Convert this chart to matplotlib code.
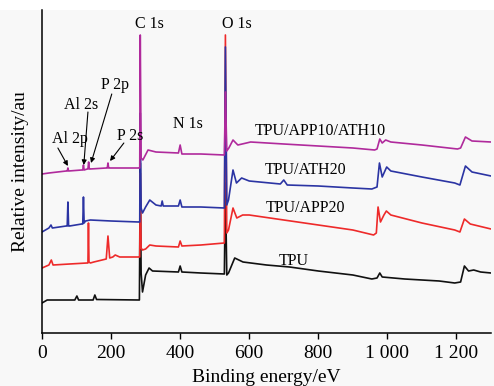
import matplotlib
matplotlib.use("Agg")
import matplotlib.pyplot as plt
from matplotlib.patches import Rectangle

plt.rcParams['font.family'] = ['Liberation Serif', 'DejaVu Serif']

# ---------------- data (binding energy in eV, relative intensity in a.u.) -------------
tpu_ev = [0, 15, 95, 101, 106, 148, 153, 158, 282, 284.5, 287, 291, 300, 310, 320, 395, 400, 405,
          460, 528, 531, 535, 540, 558, 582, 650, 717, 800, 900, 955, 970, 978, 985, 1050, 1150,
          1195, 1212, 1223, 1235, 1250, 1270, 1300]
tpu_int = [30, 33, 33, 37, 33, 33, 38, 33.5, 33, 170, 60, 41, 58, 65, 62, 61, 67, 61,
           60, 59, 150, 58, 60, 75, 71, 68, 66, 62, 58, 54, 55, 60, 56, 54, 52,
           50, 51, 67, 62, 63, 61, 60]

app20_ev = [0, 20, 27, 32, 80, 130, 133, 134.5, 136, 140, 150, 186, 191, 196, 205, 212, 225, 280,
            283, 284.5, 287, 291, 300, 312, 330, 395, 400, 405, 460, 528, 531, 535, 540, 553, 564,
            581, 600, 700, 800, 900, 960, 968, 973, 980, 990, 997, 1010, 1100, 1195, 1210, 1223,
            1240, 1300]
app20_int = [65, 68, 73, 68, 69, 70, 70, 110, 71, 70, 71, 74, 97, 75, 76, 78, 76, 76,
             76, 160, 85, 83, 84, 88, 87, 86, 92, 87, 88, 90, 298, 100, 103, 125, 115,
             118, 118, 113, 108, 103, 98, 100, 126, 111, 118, 122, 118, 110, 103, 101, 114,
             109, 104]

ath20_ev = [0, 20, 26, 30, 70, 73, 75, 77, 80, 115, 118, 120, 122, 126, 140, 200, 280, 283,
            284.5, 287, 291, 300, 312, 330, 345, 348, 351, 395, 400, 405, 460, 528, 531, 535,
            540, 553, 563, 578, 600, 690, 700, 710, 800, 900, 955, 970, 977, 985, 998, 1010,
            1100, 1195, 1210, 1226, 1245, 1300]
ath20_int = [101, 105, 108, 105, 107, 107, 131, 107, 107, 109, 109, 136, 110, 112, 113, 112, 111, 111,
             220, 125, 120, 126, 133, 128, 127, 132, 127, 127, 133, 126, 126, 125, 286, 128,
             133, 163, 150, 155, 152, 149, 153, 148, 147, 145, 144, 146, 170, 156, 166, 162,
             156, 150, 148, 167, 161, 157]

mix_ev = [0, 20, 70, 73, 75, 77, 115, 118, 120, 122, 131, 133, 135, 137, 139, 186, 189, 191, 193,
          196, 280, 283, 284.5, 287, 292, 307, 330, 395, 400, 405, 460, 528, 531, 535, 541, 553,
          567, 592, 604, 700, 800, 900, 963, 970, 978, 985, 995, 1010, 1100, 1203, 1212, 1226,
          1245, 1300]
mix_int = [159, 160, 162, 162, 165, 162, 163, 163, 168, 163, 164, 164, 171, 164, 164, 165, 165, 170, 165,
           165, 165, 165, 298, 175, 173, 183, 181, 180, 188, 179, 179, 178, 241, 182, 185, 193,
           188, 190, 191, 189, 187, 185, 183, 184, 194, 190, 193, 191, 188, 184, 185, 196,
           192, 191]

series_labels = ["TPU", "TPU/APP20", "TPU/ATH20", "TPU/APP10/ATH10"]
xtick_vals = [0, 200, 400, 600, 800, 1000, 1200]
xtick_labels = ["0", "200", "400", "600", "800", "1 000", "1 200"]

# ---------------- figure ----------------
fig = plt.figure(figsize=(4.94, 3.86), dpi=100)
fig.patch.set_facecolor('#f8f8f8')
fig.add_artist(Rectangle((0, 376 / 386), 1, 10 / 386, transform=fig.transFigure,
                         facecolor='white', edgecolor='none', zorder=0))
ax = fig.add_axes([42 / 494, 53 / 386, 449 / 494, 323 / 386])
ax.set_facecolor('none')

col_tpu = '#111111'
col_app = '#ee2a2a'
col_ath = '#2b34a3'
col_mix = '#b02a9c'
lw = 1.2
ax.plot(tpu_ev, tpu_int, color=col_tpu, lw=lw)
ax.plot(app20_ev, app20_int, color=col_app, lw=lw)
ax.plot(ath20_ev, ath20_int, color=col_ath, lw=lw)
ax.plot(mix_ev, mix_int, color=col_mix, lw=lw)

ax.set_xlim(0, 1300)
ax.set_ylim(0, 323)
ax.set_yticks([])
ax.set_xticks(xtick_vals)
ax.set_xticklabels(xtick_labels)
ax.tick_params(axis='x', direction='out', length=4, width=1.0, pad=5, labelsize=14)
for s in ['top', 'right']:
    ax.spines[s].set_visible(False)
for s in ['left', 'bottom']:
    ax.spines[s].set_linewidth(1.1)

ax.set_xlabel("Binding energy/eV", fontsize=14, labelpad=5)
ax.set_ylabel("Relative intensity/au", fontsize=14)
ax.yaxis.set_label_coords(-0.03, 0.5)

fs = 11.5
peak_labels = [("C 1s", 312, 309), ("O 1s", 564, 309), ("N 1s", 422, 209),
               ("P 2p", 211, 248), ("Al 2s", 113, 228), ("Al 2p", 81, 194), ("P 2s", 254, 197)]
for t, x, y in peak_labels:
    ax.text(x, y, t, fontsize=fs, ha='center', va='center')

arrows = [((46, 185), (75, 167)), ((133, 221), (121, 168)),
          ((202, 239), (142, 170)), ((237, 190), (197, 172))]
for (x0, y0), (x1, y1) in arrows:
    ax.annotate("", xy=(x1, y1), xytext=(x0, y0),
                arrowprops=dict(arrowstyle='-|>', color='black', lw=0.8,
                                mutation_scale=7, shrinkA=0, shrinkB=0))

curve_label_pos = [(729, 72), (763, 125), (763, 163), (807, 202)]
for t, (x, y) in zip(series_labels, curve_label_pos):
    ax.text(x, y, t, fontsize=fs, ha='center', va='center')

fig.savefig("out.png", dpi=100, facecolor=fig.get_facecolor())
